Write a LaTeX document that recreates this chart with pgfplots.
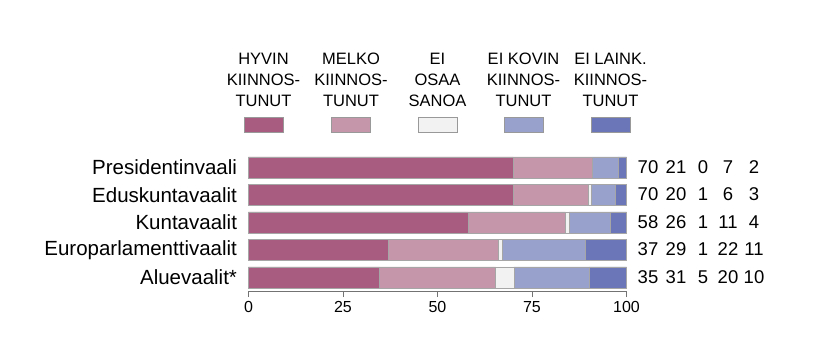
\documentclass[border=0pt]{standalone}
\usepackage{pgfplots}
\pgfplotsset{compat=1.18}
\usepackage{fontspec}
\setmainfont{Liberation Sans}
\definecolor{cA}{HTML}{A85C80}
\definecolor{cB}{HTML}{C596AA}
\definecolor{cC}{HTML}{F2F2F2}
\definecolor{cD}{HTML}{98A0CC}
\definecolor{cE}{HTML}{6A76B8}
% bar lengths (unrounded)
\pgfplotstableread{
y a b c d e
0 70.0 20.9 0.0 6.9 2.2
1 70.0 20.0 0.7 6.2 3.1
2 58.1 25.8 0.9 11.0 4.2
3 37.1 29.1 0.8 22.0 11.0
4 34.7 30.7 4.8 19.9 9.9
}\datatable
\begin{document}
\begin{tikzpicture}
\path[use as bounding box] (0pt,0pt) rectangle (825pt,-364pt);
\begin{axis}[
  at={(248.5pt,-291pt)}, anchor=south west,
  scale only axis, width=378pt, height=137.5pt,
  xbar stacked, bar width=21pt,
  xmin=0, xmax=100, ymin=-0.5, ymax=4.5, y dir=reverse,
  clip=false,
  axis x line*=bottom, axis y line*=left,
  x axis line style={draw=black!55,-},
  y axis line style={draw=none},
  xtick={0,25,50,75,100},
  tick align=outside, major tick length=6pt,
  xtick style={draw=black!55},
  ytick={0,1,2,3,4}, ytick style={draw=none},
  yticklabels={Presidentinvaali,Eduskuntavaalit,Kuntavaalit,Europarlamenttivaalit,Aluevaalit*},
  yticklabel style={font=\fontsize{20.5}{24}\selectfont, xshift=-2pt},
  xticklabel style={font=\fontsize{16}{18}\selectfont, yshift=-1pt},
  /pgf/number format/assume math mode=true,
  every axis plot/.append style={draw=black!35, line width=0.5pt},
]
\addplot[fill=cA] table[x=a,y=y]{\datatable};
\addplot[fill=cB] table[x=b,y=y]{\datatable};
\addplot[fill=cC] table[x=c,y=y]{\datatable};
\addplot[fill=cD] table[x=d,y=y]{\datatable};
\addplot[fill=cE] table[x=e,y=y]{\datatable};
\end{axis}
% value columns (rounded percentages)
\begin{scope}[font=\fontsize{18.5}{22}\selectfont]
\foreach \r/\va/\vb/\vc/\vd/\ve in {0/70/21/0/7/2,1/70/20/1/6/3,2/58/26/1/11/4,3/37/29/1/22/11,4/35/31/5/20/10}{
  \pgfmathsetmacro{\yy}{-167-27.5*\r}
  \node at (648pt,\yy pt) {\va};
  \node at (676pt,\yy pt) {\vb};
  \node at (703pt,\yy pt) {\vc};
  \node at (728pt,\yy pt) {\vd};
  \node at (754pt,\yy pt) {\ve};
}
\end{scope}
% legend
\begin{scope}[font=\fontsize{16.5}{21}\selectfont]
\node[align=center, anchor=south] at (263.5pt,-110pt) {HYVIN\\KIINNOS-\\TUNUT};
\node[align=center, anchor=south] at (351pt,-110pt) {MELKO\\KIINNOS-\\TUNUT};
\node[align=center, anchor=south] at (437.5pt,-110pt) {EI\\OSAA\\SANOA};
\node[align=center, anchor=south] at (523.5pt,-110pt) {EI KOVIN\\KIINNOS-\\TUNUT};
\node[align=center, anchor=south] at (610.5pt,-110pt) {EI LAINK.\\KIINNOS-\\TUNUT};
\draw[black!40, fill=cA] (244pt,-117pt) rectangle (283pt,-132pt);
\draw[black!40, fill=cB] (331pt,-117pt) rectangle (370pt,-132pt);
\draw[black!40, fill=cC] (418pt,-117pt) rectangle (457pt,-132pt);
\draw[black!40, fill=cD] (504pt,-117pt) rectangle (543pt,-132pt);
\draw[black!40, fill=cE] (591pt,-117pt) rectangle (630pt,-132pt);
\end{scope}
\end{tikzpicture}
\end{document}
